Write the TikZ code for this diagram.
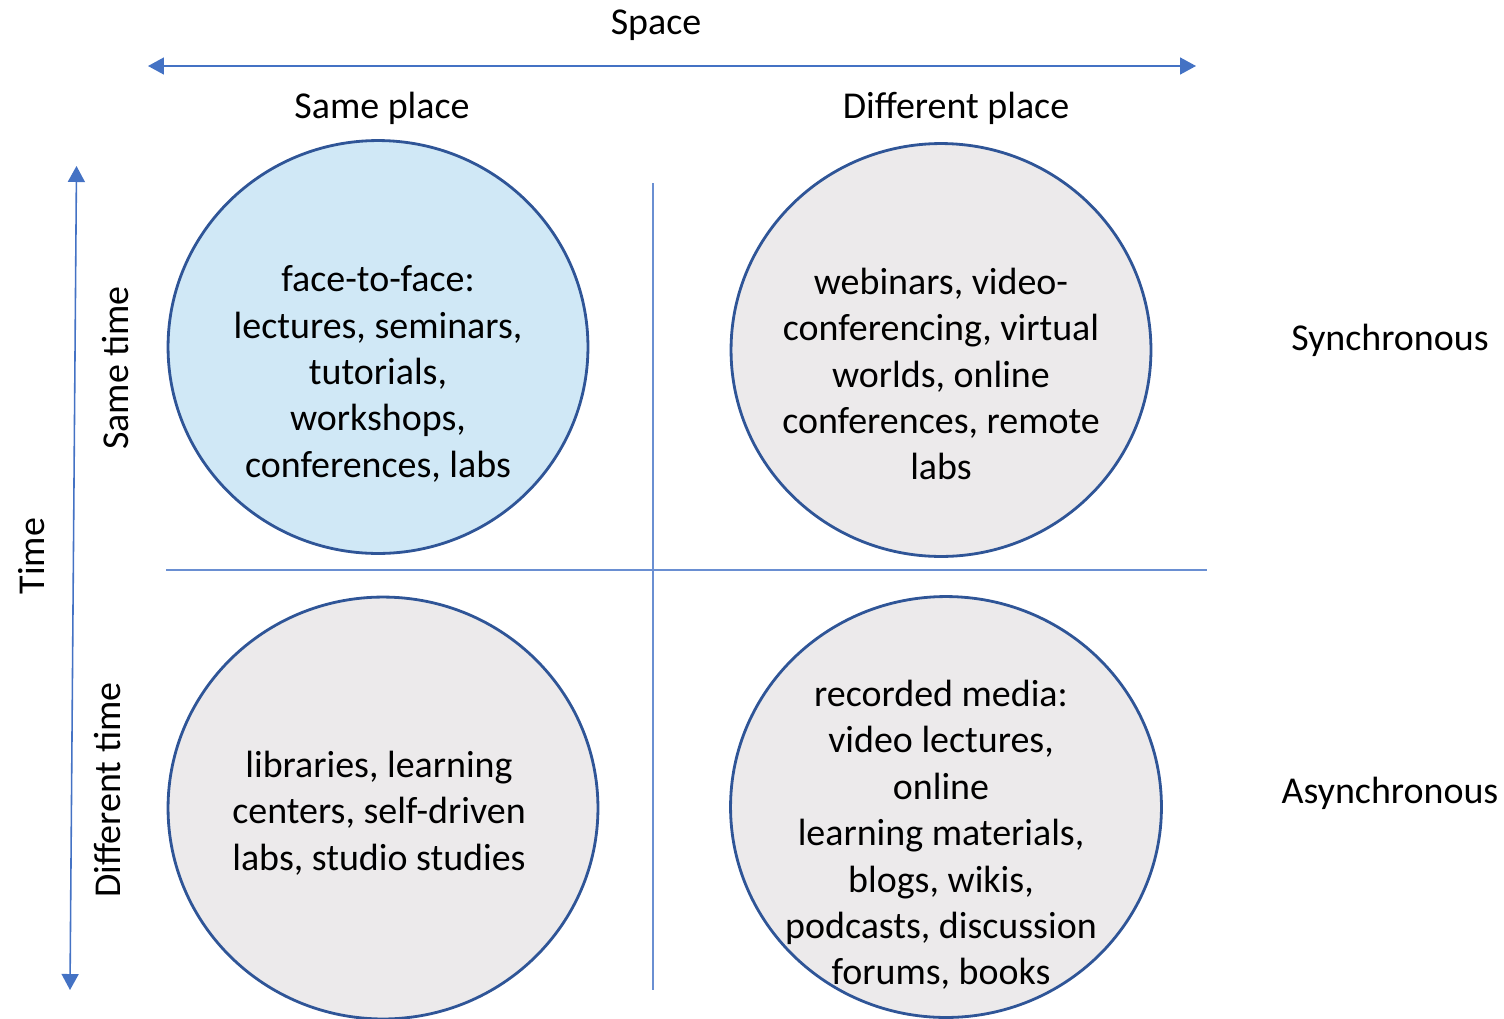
\documentclass[tikz,border=0pt]{standalone}
\usepackage{fontspec}
\setmainfont{Carlito}
\usetikzlibrary{shapes.geometric,arrows.meta}
\definecolor{axisblue}{HTML}{4472C4}
\definecolor{lineblue}{HTML}{6A8FD2}
\definecolor{ringblue}{HTML}{2F5597}
\definecolor{lblue}{HTML}{D0E8F6}
\definecolor{lgray}{HTML}{ECEAEB}
\tikzset{
  circ/.style={ellipse, draw=ringblue, line width=1.6pt, inner sep=0pt},
  txt/.style={align=center, inner sep=0pt, font=\fontsize{21.6}{26.4}\selectfont},
  lbl/.style={inner sep=0pt, font=\fontsize{21.6}{26}\selectfont},
  axis/.style={draw=axisblue, line width=0.9pt, {Triangle[length=0.32cm,width=0.34cm]}-{Triangle[length=0.32cm,width=0.34cm]}},
  grid/.style={draw=lineblue, line width=0.8pt}
}
\begin{document}
\begin{tikzpicture}[x=0.02cm,y=-0.02cm]
\useasboundingbox (0,0) rectangle (1504,1018);
\clip (0,0) rectangle (1504,1018);
% axes
\coordinate (hl) at (148,66);
\coordinate (hr) at (1196,66);
\coordinate (vt) at (76.5,166);
\coordinate (vb) at (70,990);
\draw[axis] (hl) -- (hr);
\draw[axis] (vt) -- (vb);
% grid lines
\coordinate (gv1) at (653,183);
\coordinate (gv2) at (653,990);
\coordinate (gh1) at (166,570);
\coordinate (gh2) at (1207,570);
\draw[grid] (gv1) -- (gv2);
\draw[grid] (gh1) -- (gh2);
% circles
\node[circ, fill=lblue, minimum width=8.4cm, minimum height=8.26cm] (c1) at (378,347) {};
\node[circ, fill=lgray, minimum width=8.4cm, minimum height=8.26cm] (c2) at (941,350) {};
\node[circ, fill=lgray, minimum width=8.6cm, minimum height=8.44cm] (c3) at (383,808) {};
\node[circ, fill=lgray, minimum width=8.62cm, minimum height=8.42cm] (c4) at (946,807) {};
% circle texts
\node[txt] (t1) at (378,374) {face-to-face:\\lectures, seminars,\\tutorials,\\workshops,\\conferences, labs};
\node[txt] (t2) at (941,374) {webinars, video-\\conferencing, virtual\\worlds, online\\conferences, remote\\labs};
\node[txt] (t3) at (379,813) {libraries, learning\\centers, self-driven\\labs, studio studies};
\node[txt] (t4) at (941,835) {recorded media:\\video lectures,\\online\\learning materials,\\blogs, wikis,\\podcasts, discussion\\forums, books};
% labels
\node[lbl] (space) at (656,25) {Space};
\node[lbl] (same) at (382,108) {Same place};
\node[lbl] (diff) at (956,108) {Different place};
\node[lbl, rotate=90] (time) at (32,556) {Time};
\node[lbl, rotate=90] (stime) at (116,368) {Same time};
\node[lbl, rotate=90] (dtime) at (108,790) {Different time};
\node[lbl] (sync) at (1390,340) {Synchronous};
\node[lbl] (async) at (1390,793) {Asynchronous};
\end{tikzpicture}
\end{document}
